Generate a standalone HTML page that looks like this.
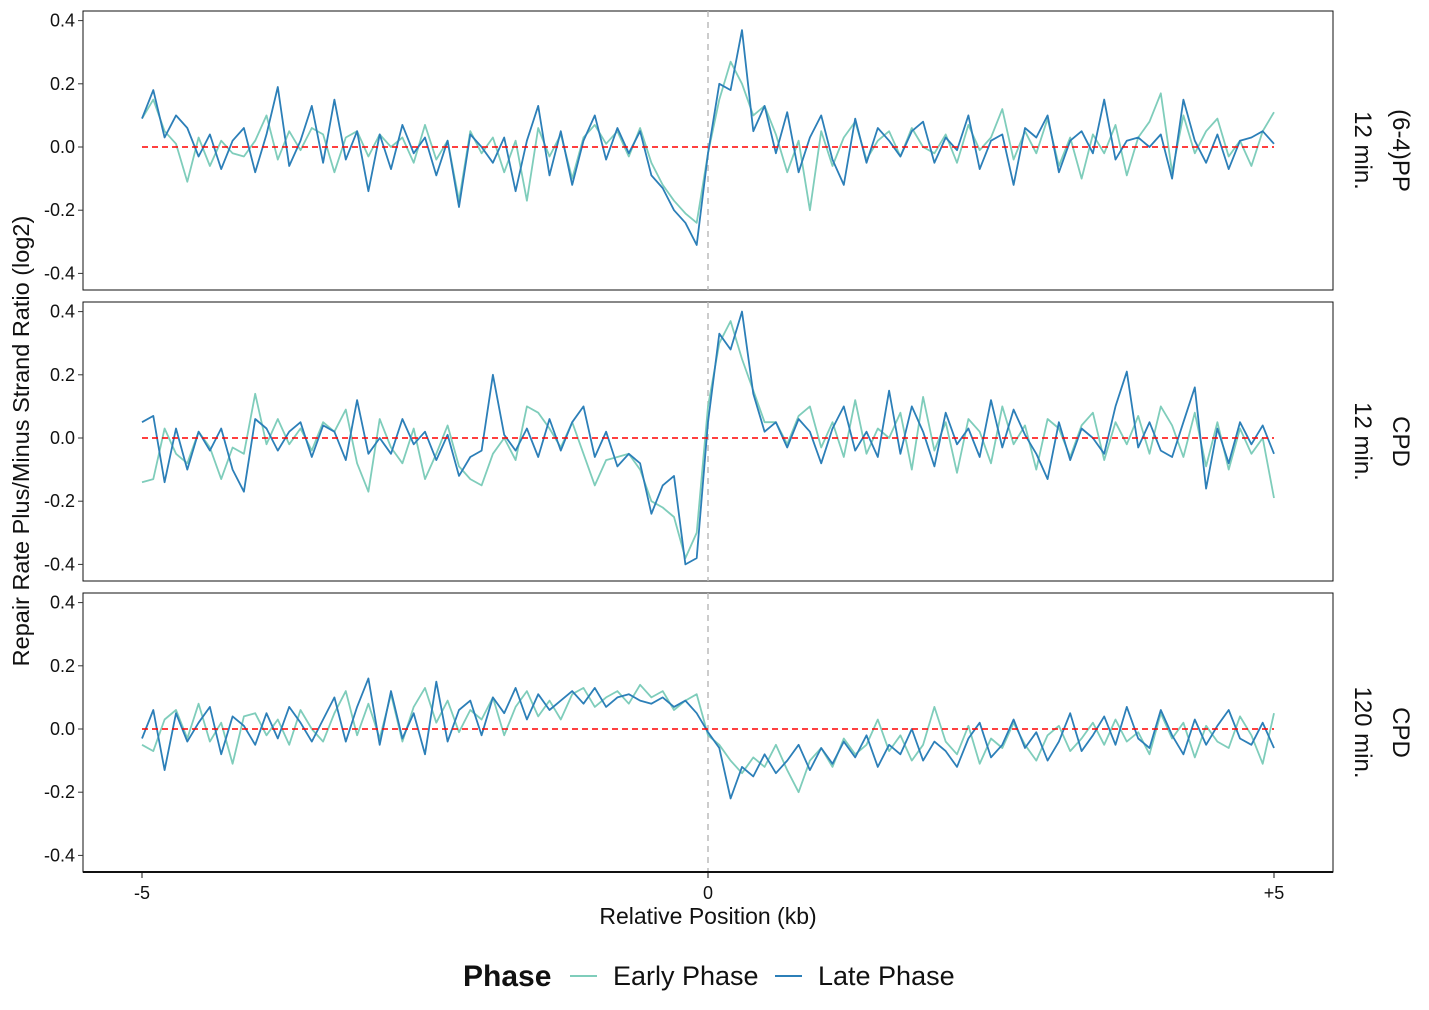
<!DOCTYPE html>
<html><head><meta charset="utf-8"><style>
html,body{margin:0;padding:0;background:#fff;}
svg{display:block;font-family:"Liberation Sans",Arial,sans-serif;}
</style></head><body>
<svg id="chart" width="1429" height="1010" viewBox="0 0 1429 1010"></svg>
<script>
const panelLabels = [["(6-4)PP","12 min."],["CPD","12 min."],["CPD","120 min."]];
const yTicks = [0.4,0.2,0.0,-0.2,-0.4];
const yTickLabels = ["0.4","0.2","0.0","-0.2","-0.4"];
const xTicks = [-5,0,5];
const xTickLabels = ["-5","0","+5"];
const seriesNames = ["Early Phase","Late Phase"];
const p1Early = [0.09,0.15,0.05,0.01,-0.11,0.03,-0.06,0.02,-0.02,-0.03,0.02,0.10,-0.04,0.05,-0.01,0.06,0.04,-0.08,0.03,0.05,-0.03,0.04,0.00,0.03,-0.05,0.07,-0.04,0.02,-0.17,0.05,-0.02,0.03,-0.08,0.02,-0.17,0.06,-0.03,0.04,-0.10,0.03,0.07,0.01,0.05,-0.03,0.06,
-0.05,-0.12,-0.17,-0.21,-0.24,-0.02,0.15,0.27,0.20,0.10,0.13,
0.04,-0.08,0.02,-0.20,0.05,-0.06,0.03,0.08,-0.04,0.02,0.05,-0.03,0.06,0.00,-0.02,0.04,-0.05,0.07,-0.01,0.03,0.12,-0.04,0.05,-0.02,0.09,-0.06,0.03,-0.10,0.04,-0.02,0.07,-0.09,0.03,0.08,0.17,-0.08,0.10,-0.02,0.05,0.09,-0.03,0.02,-0.06,0.05,0.11];
const p1Late = [0.09,0.18,0.03,0.10,0.06,-0.03,0.04,-0.07,0.02,0.06,-0.08,0.04,0.19,-0.06,0.02,0.13,-0.05,0.15,-0.04,0.05,-0.14,0.04,-0.07,0.07,-0.02,0.03,-0.09,0.02,-0.19,0.04,0.00,-0.05,0.03,-0.14,0.02,0.13,-0.09,0.05,-0.12,0.02,0.10,-0.04,0.06,-0.02,0.05,
-0.09,-0.13,-0.20,-0.24,-0.31,-0.02,0.20,0.18,0.37,0.05,0.13,
-0.02,0.11,-0.08,0.03,0.10,-0.04,-0.12,0.09,-0.05,0.06,0.02,-0.03,0.05,0.08,-0.05,0.03,-0.01,0.10,-0.07,0.02,0.04,-0.12,0.06,0.03,0.10,-0.08,0.02,0.05,-0.02,0.15,-0.04,0.02,0.03,0.00,0.04,-0.10,0.15,0.02,-0.05,0.04,-0.07,0.02,0.03,0.05,0.01];
const p2Early = [-0.14,-0.13,0.03,-0.05,-0.08,0.02,-0.03,-0.13,-0.03,-0.05,0.14,-0.02,0.06,-0.02,0.03,-0.04,0.05,0.02,0.09,-0.08,-0.17,0.06,-0.03,-0.08,0.03,-0.13,-0.05,0.04,-0.09,-0.13,-0.15,-0.05,0.00,-0.07,0.10,0.08,0.03,-0.03,0.05,-0.05,-0.15,-0.07,-0.06,-0.05,-0.10,
-0.20,-0.22,-0.25,-0.38,-0.30,0.10,0.30,0.37,0.25,0.15,0.05,
0.05,-0.02,0.07,0.10,-0.03,0.05,-0.06,0.12,-0.05,0.03,0.00,0.08,-0.10,0.13,-0.04,0.05,-0.11,0.06,0.02,-0.08,0.10,-0.02,0.04,-0.10,0.06,0.03,-0.06,0.04,0.08,-0.07,0.05,-0.02,0.07,-0.05,0.10,0.04,-0.06,0.08,-0.09,0.05,-0.10,0.03,-0.05,0.00,-0.19];
const p2Late = [0.05,0.07,-0.14,0.03,-0.10,0.02,-0.04,0.03,-0.10,-0.17,0.06,0.03,-0.04,0.02,0.05,-0.06,0.04,0.02,-0.07,0.12,-0.05,0.00,-0.05,0.06,-0.02,0.02,-0.07,0.01,-0.12,-0.06,-0.04,0.20,0.01,-0.04,0.03,-0.06,0.06,-0.04,0.05,0.10,-0.06,0.02,-0.09,-0.05,-0.08,
-0.24,-0.15,-0.12,-0.40,-0.38,0.05,0.33,0.28,0.40,0.14,0.02,
0.05,-0.03,0.06,0.02,-0.08,0.03,0.10,-0.04,0.02,-0.06,0.15,-0.05,0.10,0.02,-0.09,0.08,-0.02,0.03,-0.06,0.12,-0.03,0.09,0.01,-0.05,-0.13,0.05,-0.07,0.03,0.00,-0.05,0.10,0.21,-0.03,0.05,-0.04,-0.06,0.05,0.16,-0.16,0.03,-0.08,0.05,-0.02,0.04,-0.05];
const p3Early = [-0.05,-0.07,0.03,0.06,-0.03,0.08,-0.04,0.02,-0.11,0.04,0.05,-0.02,0.03,-0.05,0.06,0.00,-0.04,0.05,0.12,-0.02,0.08,-0.03,0.11,-0.04,0.07,0.13,0.02,0.09,-0.01,0.06,0.03,0.10,-0.02,0.07,0.12,0.04,0.09,0.03,0.11,0.13,0.07,0.10,0.12,0.08,0.14,
0.10,0.12,0.06,0.09,0.11,-0.02,-0.05,-0.10,-0.14,-0.09,-0.12,
-0.05,-0.13,-0.20,-0.10,-0.06,-0.12,-0.03,-0.08,-0.05,0.03,-0.07,-0.02,-0.10,-0.05,0.07,-0.04,-0.08,0.01,-0.11,-0.03,-0.06,0.02,-0.05,-0.10,-0.02,0.01,-0.07,-0.03,0.02,-0.05,0.03,-0.04,-0.01,-0.08,0.05,-0.03,0.02,-0.09,0.01,-0.04,-0.06,0.04,-0.02,-0.11,0.05];
const p3Late = [-0.03,0.06,-0.13,0.05,-0.04,0.02,0.07,-0.08,0.04,0.01,-0.05,0.05,-0.03,0.07,0.02,-0.04,0.03,0.10,-0.04,0.07,0.16,-0.05,0.12,-0.03,0.05,-0.08,0.15,-0.04,0.06,0.09,-0.02,0.10,0.05,0.13,0.03,0.11,0.06,0.09,0.12,0.08,0.13,0.07,0.10,0.11,0.09,
0.08,0.10,0.07,0.09,0.05,-0.01,-0.06,-0.22,-0.12,-0.15,-0.08,
-0.14,-0.10,-0.05,-0.13,-0.06,-0.11,-0.04,-0.09,-0.02,-0.12,-0.05,-0.08,0.00,-0.10,-0.04,-0.07,-0.12,-0.03,0.02,-0.09,-0.05,0.03,-0.06,-0.01,-0.10,-0.04,0.05,-0.07,-0.02,0.04,-0.05,0.07,-0.03,-0.06,0.06,-0.02,-0.08,0.03,-0.05,0.01,0.06,-0.03,-0.05,0.02,-0.06];
const panelData = [[p1Early,p1Late],[p2Early,p2Late],[p3Early,p3Late]];

const NS="http://www.w3.org/2000/svg";
const svg=document.getElementById("chart");
function mk(tag,attrs,parent){const e=document.createElementNS(NS,tag);for(const k in attrs)e.setAttribute(k,attrs[k]);(parent||svg).appendChild(e);return e;}
const left=83,right=1333,panelH=279,panelTops=[11,302,593];
const xScale=v=>708+v*113.2;
const yScale=(v,top)=>top+136+(-v)*316;
const colors=["#7fcdbb","#2c7fb8"];

panelTops.forEach((top,p)=>{
  const g=mk("g",{});
  
  
  const rect=mk("rect",{x:left,y:top,width:right-left,height:panelH,fill:"#fff",stroke:"#111","stroke-width":1},g);
  
  
  const vl=mk("line",{x1:xScale(0),x2:xScale(0),y1:top,y2:top+panelH,stroke:"#bbb","stroke-width":1.5,"stroke-dasharray":"6,5"},g);
  
  
  yTicks.forEach((t,i)=>{
    const y=yScale(t,top);
    const tk=mk("line",{x1:left-5,x2:left,y1:y,y2:y,stroke:"#333","stroke-width":1},g);
    
    
    const tl=mk("text",{x:left-8,y:y+6,"text-anchor":"end","font-size":18,fill:"#111"},g);
    tl.textContent=yTickLabels[i];
    
    
  });
  panelData[p].forEach((arr,s)=>{
    const n=arr.length;
    const pts=arr.map((v,i)=>xScale(-5+10*i/(n-1)).toFixed(1)+","+yScale(v,top).toFixed(1)).join(" ");
    const pl=mk("polyline",{points:pts,fill:"none",stroke:colors[s],"stroke-width":1.8,"stroke-linejoin":"round"},g);
    
    
  });
  const hl=mk("line",{x1:xScale(-5),x2:xScale(5),y1:yScale(0,top),y2:yScale(0,top),stroke:"#ff0000","stroke-width":1.6,"stroke-dasharray":"6,4"},g);
  
  
  const cy=top+panelH/2;
  const s1=mk("text",{x:1393,y:cy,"text-anchor":"middle","font-size":24,fill:"#111",transform:`rotate(90 1393 ${cy})`},g);
  s1.textContent=panelLabels[p][0];
  
  
  const s2=mk("text",{x:1355,y:cy,"text-anchor":"middle","font-size":24,fill:"#111",transform:`rotate(90 1355 ${cy})`},g);
  s2.textContent=panelLabels[p][1];
  
  
});
const ax=mk("line",{x1:left,x2:right,y1:872,y2:872,stroke:"#111","stroke-width":2});


xTicks.forEach((t,i)=>{
  const x=xScale(t);
  const tk=mk("line",{x1:x,x2:x,y1:872,y2:878,stroke:"#111","stroke-width":1});
  
  
  const tl=mk("text",{x:x,y:899,"text-anchor":"middle","font-size":18,fill:"#111"});
  tl.textContent=xTickLabels[i];
  
  
});
const xt=mk("text",{x:708,y:924,"text-anchor":"middle","font-size":23,fill:"#111"});
xt.textContent="Relative Position (kb)";


const yt=mk("text",{x:29,y:441,"text-anchor":"middle","font-size":23.5,fill:"#111",transform:"rotate(-90 29 441)"});
yt.textContent="Repair Rate Plus/Minus Strand Ratio (log2)";


const lt=mk("text",{x:463,y:986,"font-size":30,"font-weight":"bold",fill:"#111"});
lt.textContent="Phase";


[[570,613],[775,818]].forEach((pos,s)=>{
  const ll=mk("line",{x1:pos[0],x2:pos[0]+27,y1:976,y2:976,stroke:colors[s],"stroke-width":2});
  
  
  const tx=mk("text",{x:pos[1],y:985,"font-size":27,fill:"#111"});
  tx.textContent=seriesNames[s];
  
  
});
</script>
</body></html>
